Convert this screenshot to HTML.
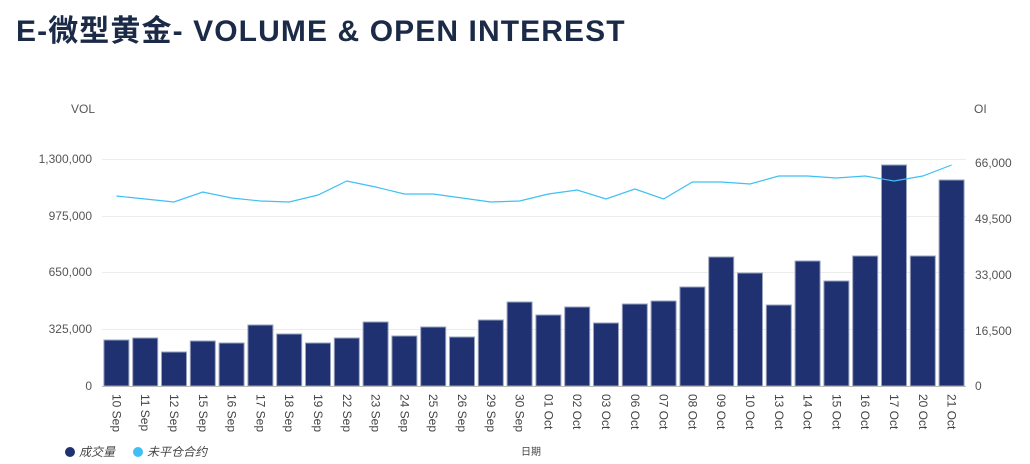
<!DOCTYPE html>
<html><head><meta charset="utf-8"><style>
body{margin:0;background:#fff;width:1030px;height:459px;overflow:hidden;font-family:"Liberation Sans","Noto Sans CJK SC",sans-serif}
</style></head><body>
<svg width="1030" height="459" xmlns="http://www.w3.org/2000/svg" font-family="Liberation Sans, Noto Sans CJK SC, sans-serif">
<text x="16" y="41" font-size="30" font-weight="bold" fill="#1b2a47" letter-spacing="1.1">E-微型黄金- VOLUME &amp; OPEN INTEREST</text>
<text x="95" y="113" font-size="12" fill="#555" text-anchor="end">VOL</text>
<text x="974" y="113" font-size="12" fill="#555">OI</text>
<g stroke="#ececec" stroke-width="1">
<line x1="102" x2="966" y1="159.5" y2="159.5"/><line x1="102" x2="966" y1="216.5" y2="216.5"/>
<line x1="102" x2="966" y1="272.5" y2="272.5"/><line x1="102" x2="966" y1="329.5" y2="329.5"/>
</g>
<g font-size="12" fill="#555" text-anchor="end">
<text x="92" y="163">1,300,000</text><text x="92" y="220">975,000</text><text x="92" y="276">650,000</text><text x="92" y="333">325,000</text><text x="92" y="390">0</text>
</g>
<g font-size="12" fill="#555">
<text x="975" y="167">66,000</text><text x="975" y="223">49,500</text><text x="975" y="279">33,000</text><text x="975" y="335">16,500</text><text x="975" y="390">0</text>
</g>
<g fill="#1f3170" stroke="#9aa3c0" stroke-width="1">
<rect x="103.9" y="340" width="25" height="46"/>
<rect x="132.7" y="338" width="25" height="48"/>
<rect x="161.5" y="352" width="25" height="34"/>
<rect x="190.3" y="341" width="25" height="45"/>
<rect x="219.1" y="343" width="25" height="43"/>
<rect x="247.9" y="325" width="25" height="61"/>
<rect x="276.7" y="334" width="25" height="52"/>
<rect x="305.5" y="343" width="25" height="43"/>
<rect x="334.3" y="338" width="25" height="48"/>
<rect x="363.1" y="322" width="25" height="64"/>
<rect x="391.9" y="336" width="25" height="50"/>
<rect x="420.7" y="327" width="25" height="59"/>
<rect x="449.5" y="337" width="25" height="49"/>
<rect x="478.3" y="320" width="25" height="66"/>
<rect x="507.1" y="302" width="25" height="84"/>
<rect x="535.9" y="315" width="25" height="71"/>
<rect x="564.7" y="307" width="25" height="79"/>
<rect x="593.5" y="323" width="25" height="63"/>
<rect x="622.3" y="304" width="25" height="82"/>
<rect x="651.1" y="301" width="25" height="85"/>
<rect x="679.9" y="287" width="25" height="99"/>
<rect x="708.7" y="257" width="25" height="129"/>
<rect x="737.5" y="273" width="25" height="113"/>
<rect x="766.3" y="305" width="25" height="81"/>
<rect x="795.1" y="261" width="25" height="125"/>
<rect x="823.9" y="281" width="25" height="105"/>
<rect x="852.7" y="256" width="25" height="130"/>
<rect x="881.5" y="165" width="25" height="221"/>
<rect x="910.3" y="256" width="25" height="130"/>
<rect x="939.1" y="180" width="25" height="206"/>
</g>
<line x1="102" x2="966" y1="386.5" y2="386.5" stroke="#bbb"/>
<polyline fill="none" stroke="#3ec0f5" stroke-width="1.2" points="116.4,196 145.2,199 174,202 202.8,192 231.6,198 260.4,201 289.2,202 318,195 346.8,181 375.6,187 404.4,194 433.2,194 462,198 490.8,202 519.6,201 548.4,194 577.2,190 606,199 634.8,189 663.6,199 692.4,182 721.2,182 750,184 778.8,176 807.6,176 836.4,178 865.2,176 894,181 922.8,176 951.6,165"/>
<g font-size="12" fill="#444">
<text transform="translate(112.4,394) rotate(90)">10 Sep</text>
<text transform="translate(141.2,394) rotate(90)">11 Sep</text>
<text transform="translate(170,394) rotate(90)">12 Sep</text>
<text transform="translate(198.8,394) rotate(90)">15 Sep</text>
<text transform="translate(227.6,394) rotate(90)">16 Sep</text>
<text transform="translate(256.4,394) rotate(90)">17 Sep</text>
<text transform="translate(285.2,394) rotate(90)">18 Sep</text>
<text transform="translate(314,394) rotate(90)">19 Sep</text>
<text transform="translate(342.8,394) rotate(90)">22 Sep</text>
<text transform="translate(371.6,394) rotate(90)">23 Sep</text>
<text transform="translate(400.4,394) rotate(90)">24 Sep</text>
<text transform="translate(429.2,394) rotate(90)">25 Sep</text>
<text transform="translate(458,394) rotate(90)">26 Sep</text>
<text transform="translate(486.8,394) rotate(90)">29 Sep</text>
<text transform="translate(515.6,394) rotate(90)">30 Sep</text>
<text transform="translate(544.4,394) rotate(90)">01 Oct</text>
<text transform="translate(573.2,394) rotate(90)">02 Oct</text>
<text transform="translate(602,394) rotate(90)">03 Oct</text>
<text transform="translate(630.8,394) rotate(90)">06 Oct</text>
<text transform="translate(659.6,394) rotate(90)">07 Oct</text>
<text transform="translate(688.4,394) rotate(90)">08 Oct</text>
<text transform="translate(717.2,394) rotate(90)">09 Oct</text>
<text transform="translate(746,394) rotate(90)">10 Oct</text>
<text transform="translate(774.8,394) rotate(90)">13 Oct</text>
<text transform="translate(803.6,394) rotate(90)">14 Oct</text>
<text transform="translate(832.4,394) rotate(90)">15 Oct</text>
<text transform="translate(861.2,394) rotate(90)">16 Oct</text>
<text transform="translate(890,394) rotate(90)">17 Oct</text>
<text transform="translate(918.8,394) rotate(90)">20 Oct</text>
<text transform="translate(947.6,394) rotate(90)">21 Oct</text>
</g>
<circle cx="70" cy="452" r="5" fill="#1f3170"/><text x="79" y="456" font-size="12" font-style="italic" fill="#444">成交量</text>
<circle cx="138" cy="452" r="5" fill="#3ec0f5"/><text x="147" y="456" font-size="12" font-style="italic" fill="#444">未平仓合约</text>
<text x="531" y="455" font-size="10" fill="#444" text-anchor="middle">日期</text>
</svg>
</body></html>
